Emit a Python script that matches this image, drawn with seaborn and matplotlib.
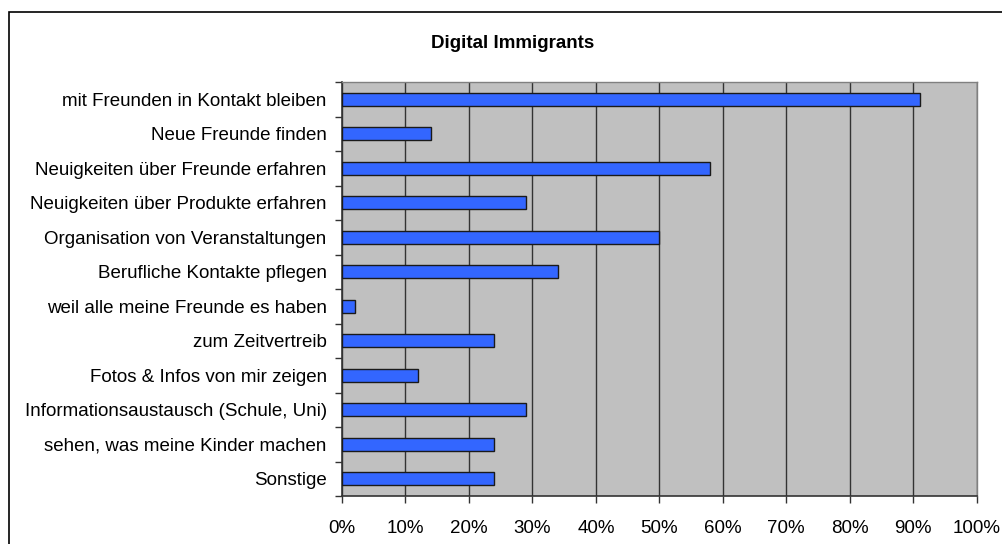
import matplotlib
matplotlib.use("Agg")
import matplotlib.pyplot as plt
import seaborn as sns
import pandas as pd
from matplotlib.ticker import FuncFormatter, FixedLocator
from matplotlib.patches import Rectangle

categories = [
    "mit Freunden in Kontakt bleiben",
    "Neue Freunde finden",
    "Neuigkeiten über Freunde erfahren",
    "Neuigkeiten über Produkte erfahren",
    "Organisation von Veranstaltungen",
    "Berufliche Kontakte pflegen",
    "weil alle meine Freunde es haben",
    "zum Zeitvertreib",
    "Fotos & Infos von mir zeigen",
    "Informationsaustausch (Schule, Uni)",
    "sehen, was meine Kinder machen",
    "Sonstige",
]
values = [0.91, 0.14, 0.58, 0.29, 0.50, 0.34, 0.02, 0.24, 0.12, 0.29, 0.24, 0.24]
title = "Digital Immigrants"

df = pd.DataFrame({"cat": categories, "val": values})

sns.set_theme(style="white")
plt.rcParams["font.family"] = ["Liberation Sans", "DejaVu Sans"]

fig = plt.figure(figsize=(10.02, 5.44), dpi=100)
ax = fig.add_axes([342/1002, 1-496/544, (976.7-342)/1002, (496-82)/544])

sns.barplot(data=df, x="val", y="cat", orient="h", ax=ax, color="#3366FF",
            saturation=1, width=0.37, edgecolor="#1a1a1a", linewidth=1.0, zorder=3)

ax.set_facecolor("#C0C0C0")
ax.set_xlim(0, 1.0)
ax.set_ylim(len(categories) - 0.5, -0.5)
ax.xaxis.set_major_locator(FixedLocator([i/10 for i in range(11)]))
ax.xaxis.set_major_formatter(FuncFormatter(lambda v, p: f"{v*100:.0f}%"))
ax.grid(axis="x", color="#333333", linewidth=1.0, zorder=1)
ax.grid(axis="y", visible=False)
ax.set_xlabel("")
ax.set_ylabel("")

# category ticks at boundaries
ax.set_yticks(range(len(categories)))
ax.set_yticklabels(categories, fontsize=13.5, color="black")
ax.set_yticks([i - 0.5 for i in range(len(categories) + 1)], minor=True)
ax.tick_params(axis="y", which="major", length=0, pad=11)
ax.tick_params(axis="y", which="minor", length=5, width=1, color="#333333", left=True)
ax.tick_params(axis="x", which="major", length=5, width=1, color="#333333",
               bottom=True, labelsize=13.5, labelcolor="black", pad=12)

for side in ["top", "right"]:
    ax.spines[side].set_color("#808080")
    ax.spines[side].set_linewidth(1.0)
for side in ["left", "bottom"]:
    ax.spines[side].set_color("#333333")
    ax.spines[side].set_linewidth(1.2)

fig.text(513/1002, 1-43/544, title, ha="center", va="center",
         fontsize=13.5, fontweight="bold", color="black")

fig.patches.append(Rectangle((9/1002, -0.05), 1.1, (544-12)/544 + 0.05,
                             transform=fig.transFigure, fill=False,
                             edgecolor="black", linewidth=1.2))

fig.savefig("out.png", dpi=100)
